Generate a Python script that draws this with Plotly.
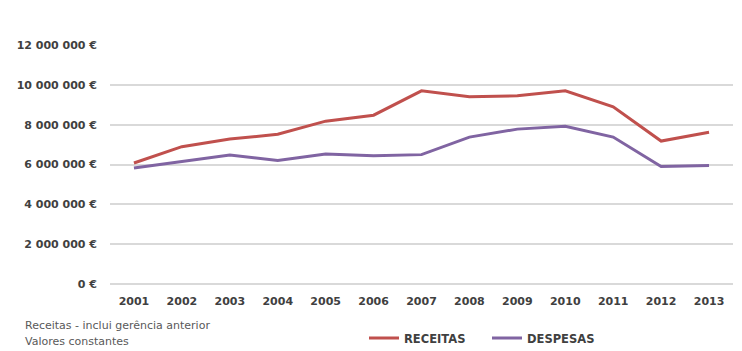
import plotly.graph_objects as go

anos = ["2001", "2002", "2003", "2004", "2005", "2006", "2007",
        "2008", "2009", "2010", "2011", "2012", "2013"]
receitas = [6080000, 6900000, 7280000, 7520000, 8180000, 8480000, 9700000,
            9400000, 9450000, 9700000, 8900000, 7180000, 7620000]
despesas = [5830000, 6150000, 6480000, 6200000, 6530000, 6450000, 6500000,
            7380000, 7780000, 7920000, 7380000, 5900000, 5950000]
y_ticks = [0, 2000000, 4000000, 6000000, 8000000, 10000000, 12000000]
y_labels = ["0 €", "2 000 000 €", "4 000 000 €", "6 000 000 €",
            "8 000 000 €", "10 000 000 €", "12 000 000 €"]
notas = ["Receitas - inclui gerência anterior", "Valores constantes"]

FONT = "DejaVu Sans"

fig = go.Figure()
fig.add_trace(go.Scatter(x=anos, y=receitas, mode="lines", name="RECEITAS",
                         line=dict(color="#C0504D", width=3)))
fig.add_trace(go.Scatter(x=anos, y=despesas, mode="lines", name="DESPESAS",
                         line=dict(color="#8064A2", width=3)))

fig.update_layout(
    width=742, height=351,
    margin=dict(l=110, r=9, t=45, b=66, autoexpand=False),
    paper_bgcolor="white", plot_bgcolor="white",
    font=dict(family=FONT, size=11, color="#404040"),
    showlegend=True,
    legend=dict(orientation="h", xref="container", yref="container",
                x=364 / 742, y=(351 - 338) / 351, xanchor="left", yanchor="middle",
                font=dict(family=FONT, size=11.5, color="#404040", weight="bold"),
                entrywidth=78, entrywidthmode="pixels",
                itemwidth=30, tracegroupgap=0, bgcolor="rgba(0,0,0,0)"),
    xaxis=dict(type="category", range=[-0.5, 12.5], showgrid=False, showline=False,
               zeroline=False, ticks="", ticklabelstandoff=8,
               tickfont=dict(family=FONT, size=11, color="#404040", weight="bold")),
    yaxis=dict(range=[-40000, 12000000], tickvals=y_ticks, ticktext=y_labels,
               showgrid=True, gridcolor="#D9D9D9", gridwidth=1.5,
               zeroline=True, zerolinecolor="#D9D9D9", zerolinewidth=1.5,
               showline=False, ticks="", ticklabelstandoff=12,
               tickfont=dict(family=FONT, size=11, color="#404040", weight="bold")),
)

fig.add_annotation(text=notas[0], xref="paper", yref="paper", x=-0.139, y=-0.167,
                   xanchor="left", yanchor="middle", showarrow=False,
                   font=dict(family=FONT, size=11, color="#595959"))
fig.add_annotation(text=notas[1], xref="paper", yref="paper", x=-0.139, y=-0.237,
                   xanchor="left", yanchor="middle", showarrow=False,
                   font=dict(family=FONT, size=11, color="#595959"))

fig.write_html("out.html")
